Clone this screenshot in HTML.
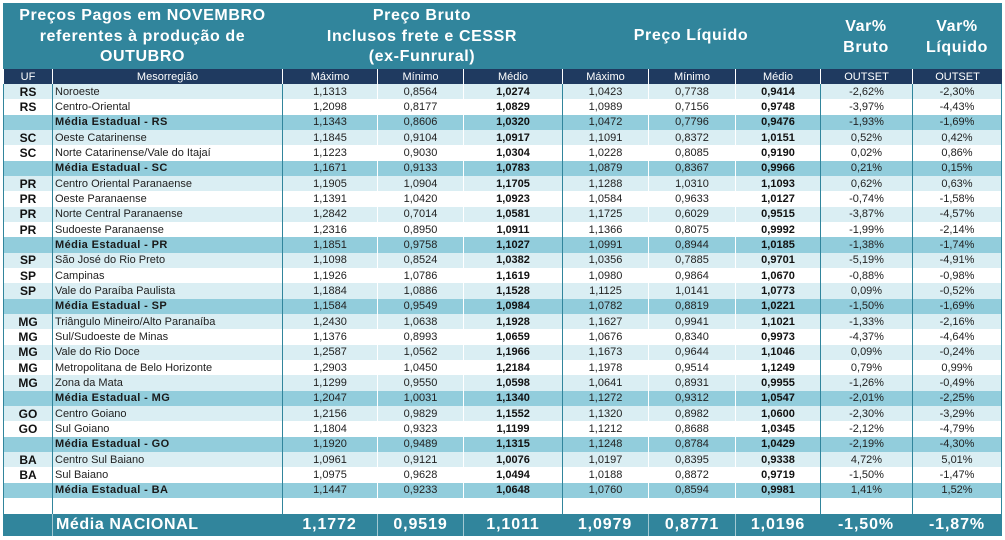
<!DOCTYPE html>
<html>
<head>
<meta charset="utf-8">
<style>
html,body{margin:0;padding:0;}
body{width:1005px;height:540px;background:#fff;overflow:hidden;position:relative;font-family:"Liberation Sans",Arial,sans-serif;}
.hdr{position:absolute;left:3px;top:3px;width:999px;height:66px;background:#31859C;}
.ht{position:absolute;color:#fff;font-weight:bold;font-size:16px;line-height:20.5px;text-align:center;letter-spacing:0.6px;white-space:nowrap;}
.row{display:grid;grid-template-columns:49px 230px 95px 86px 99px 86px 87px 85px 92px 90px;font-size:11px;color:#222;}
.row>div{box-sizing:border-box;text-align:center;white-space:nowrap;overflow:hidden;display:flex;align-items:center;justify-content:center;}
.row>div:nth-child(1){border-left:1px solid #31859C;font-weight:bold;font-size:12px;color:#111;}
.row>div:nth-child(2){border-left:1px solid #31859C;justify-content:flex-start;padding-left:2px;}
.row>div:nth-child(3){border-left:1px solid #31859C;}
.row>div:nth-child(4){border-left:1px solid #fff;}
.row>div:nth-child(5){border-left:1px solid #fff;font-weight:bold;color:#111;}
.row>div:nth-child(6){border-left:1px solid #31859C;}
.row>div:nth-child(7){border-left:1px solid #fff;}
.row>div:nth-child(8){border-left:1px solid #fff;font-weight:bold;color:#111;}
.row>div:nth-child(9){border-left:1px solid #31859C;}
.row>div:nth-child(10){border-left:1px solid #31859C;border-right:1px solid #31859C;}
.L{background:#DAEEF3;}
.W{background:#fff;}
.M{background:#92CDDC;}
.M>div:nth-child(2){font-weight:bold;letter-spacing:0.4px;color:#1a1a1a;}
.body{position:absolute;left:3px;top:84px;width:999px;height:414px;display:grid;grid-template-rows:repeat(27,1fr);}
.colh{position:absolute;left:3px;top:69px;width:999px;height:15px;background:#1F3A60;color:#fff;}
.colh>div{border-left:1px solid #fff !important;font-weight:normal !important;font-size:11px !important;color:#fff !important;justify-content:center !important;padding-left:0 !important;}
.colh>div:nth-child(10){border-right:none !important;}
.empty{position:absolute;left:3px;top:498px;width:999px;height:16px;}
.nat{position:absolute;left:3px;top:514px;width:999px;height:22px;background:#31859C;color:#fff;font-size:16px;font-weight:bold;letter-spacing:0.9px;}
.nat>div{border-left:none !important;border-right:none !important;color:#fff !important;font-weight:bold !important;font-size:16px !important;}
.nat>div:nth-child(2){border-left:1px solid rgba(255,255,255,0.55) !important;padding-left:3px !important;letter-spacing:0.6px;}
.nat>div:nth-child(4),.nat>div:nth-child(5),.nat>div:nth-child(7),.nat>div:nth-child(8){border-left:1px solid rgba(255,255,255,0.55) !important;}
</style>
</head>
<body>
<div class="hdr"></div>
<div class="ht" style="left:3px;width:279px;top:6px;">Preços Pagos em NOVEMBRO<br>referentes à produção de<br>OUTUBRO</div>
<div class="ht" style="left:282px;width:280px;top:6px;">Preço Bruto<br>Inclusos frete e CESSR<br>(ex-Funrural)</div>
<div class="ht" style="left:562px;width:258px;top:26px;">Preço Líquido</div>
<div class="ht" style="left:820px;width:92px;top:17px;">Var%<br>Bruto</div>
<div class="ht" style="left:912px;width:90px;top:17px;">Var%<br>Líquido</div>

<div class="row colh"><div>UF</div><div>Mesorregião</div><div>Máximo</div><div>Mínimo</div><div>Médio</div><div>Máximo</div><div>Mínimo</div><div>Médio</div><div>OUTSET</div><div>OUTSET</div></div>

<div class="body">
<div class="row L"><div>RS</div><div>Noroeste</div><div>1,1313</div><div>0,8564</div><div>1,0274</div><div>1,0423</div><div>0,7738</div><div>0,9414</div><div>-2,62%</div><div>-2,30%</div></div>
<div class="row W"><div>RS</div><div>Centro-Oriental</div><div>1,2098</div><div>0,8177</div><div>1,0829</div><div>1,0989</div><div>0,7156</div><div>0,9748</div><div>-3,97%</div><div>-4,43%</div></div>
<div class="row M"><div></div><div>Média Estadual - RS</div><div>1,1343</div><div>0,8606</div><div>1,0320</div><div>1,0472</div><div>0,7796</div><div>0,9476</div><div>-1,93%</div><div>-1,69%</div></div>
<div class="row L"><div>SC</div><div>Oeste Catarinense</div><div>1,1845</div><div>0,9104</div><div>1,0917</div><div>1,1091</div><div>0,8372</div><div>1,0151</div><div>0,52%</div><div>0,42%</div></div>
<div class="row W"><div>SC</div><div>Norte Catarinense/Vale do Itajaí</div><div>1,1223</div><div>0,9030</div><div>1,0304</div><div>1,0228</div><div>0,8085</div><div>0,9190</div><div>0,02%</div><div>0,86%</div></div>
<div class="row M"><div></div><div>Média Estadual - SC</div><div>1,1671</div><div>0,9133</div><div>1,0783</div><div>1,0879</div><div>0,8367</div><div>0,9966</div><div>0,21%</div><div>0,15%</div></div>
<div class="row L"><div>PR</div><div>Centro Oriental Paranaense</div><div>1,1905</div><div>1,0904</div><div>1,1705</div><div>1,1288</div><div>1,0310</div><div>1,1093</div><div>0,62%</div><div>0,63%</div></div>
<div class="row W"><div>PR</div><div>Oeste Paranaense</div><div>1,1391</div><div>1,0420</div><div>1,0923</div><div>1,0584</div><div>0,9633</div><div>1,0127</div><div>-0,74%</div><div>-1,58%</div></div>
<div class="row L"><div>PR</div><div>Norte Central Paranaense</div><div>1,2842</div><div>0,7014</div><div>1,0581</div><div>1,1725</div><div>0,6029</div><div>0,9515</div><div>-3,87%</div><div>-4,57%</div></div>
<div class="row W"><div>PR</div><div>Sudoeste Paranaense</div><div>1,2316</div><div>0,8950</div><div>1,0911</div><div>1,1366</div><div>0,8075</div><div>0,9992</div><div>-1,99%</div><div>-2,14%</div></div>
<div class="row M"><div></div><div>Média Estadual - PR</div><div>1,1851</div><div>0,9758</div><div>1,1027</div><div>1,0991</div><div>0,8944</div><div>1,0185</div><div>-1,38%</div><div>-1,74%</div></div>
<div class="row L"><div>SP</div><div>São José do Rio Preto</div><div>1,1098</div><div>0,8524</div><div>1,0382</div><div>1,0356</div><div>0,7885</div><div>0,9701</div><div>-5,19%</div><div>-4,91%</div></div>
<div class="row W"><div>SP</div><div>Campinas</div><div>1,1926</div><div>1,0786</div><div>1,1619</div><div>1,0980</div><div>0,9864</div><div>1,0670</div><div>-0,88%</div><div>-0,98%</div></div>
<div class="row L"><div>SP</div><div>Vale do Paraíba Paulista</div><div>1,1884</div><div>1,0886</div><div>1,1528</div><div>1,1125</div><div>1,0141</div><div>1,0773</div><div>0,09%</div><div>-0,52%</div></div>
<div class="row M"><div></div><div>Média Estadual - SP</div><div>1,1584</div><div>0,9549</div><div>1,0984</div><div>1,0782</div><div>0,8819</div><div>1,0221</div><div>-1,50%</div><div>-1,69%</div></div>
<div class="row L"><div>MG</div><div>Triângulo Mineiro/Alto Paranaíba</div><div>1,2430</div><div>1,0638</div><div>1,1928</div><div>1,1627</div><div>0,9941</div><div>1,1021</div><div>-1,33%</div><div>-2,16%</div></div>
<div class="row W"><div>MG</div><div>Sul/Sudoeste de Minas</div><div>1,1376</div><div>0,8993</div><div>1,0659</div><div>1,0676</div><div>0,8340</div><div>0,9973</div><div>-4,37%</div><div>-4,64%</div></div>
<div class="row L"><div>MG</div><div>Vale do Rio Doce</div><div>1,2587</div><div>1,0562</div><div>1,1966</div><div>1,1673</div><div>0,9644</div><div>1,1046</div><div>0,09%</div><div>-0,24%</div></div>
<div class="row W"><div>MG</div><div>Metropolitana de Belo Horizonte</div><div>1,2903</div><div>1,0450</div><div>1,2184</div><div>1,1978</div><div>0,9514</div><div>1,1249</div><div>0,79%</div><div>0,99%</div></div>
<div class="row L"><div>MG</div><div>Zona da Mata</div><div>1,1299</div><div>0,9550</div><div>1,0598</div><div>1,0641</div><div>0,8931</div><div>0,9955</div><div>-1,26%</div><div>-0,49%</div></div>
<div class="row M"><div></div><div>Média Estadual - MG</div><div>1,2047</div><div>1,0031</div><div>1,1340</div><div>1,1272</div><div>0,9312</div><div>1,0547</div><div>-2,01%</div><div>-2,25%</div></div>
<div class="row L"><div>GO</div><div>Centro Goiano</div><div>1,2156</div><div>0,9829</div><div>1,1552</div><div>1,1320</div><div>0,8982</div><div>1,0600</div><div>-2,30%</div><div>-3,29%</div></div>
<div class="row W"><div>GO</div><div>Sul Goiano</div><div>1,1804</div><div>0,9323</div><div>1,1199</div><div>1,1212</div><div>0,8688</div><div>1,0345</div><div>-2,12%</div><div>-4,79%</div></div>
<div class="row M"><div></div><div>Média Estadual - GO</div><div>1,1920</div><div>0,9489</div><div>1,1315</div><div>1,1248</div><div>0,8784</div><div>1,0429</div><div>-2,19%</div><div>-4,30%</div></div>
<div class="row L"><div>BA</div><div>Centro Sul Baiano</div><div>1,0961</div><div>0,9121</div><div>1,0076</div><div>1,0197</div><div>0,8395</div><div>0,9338</div><div>4,72%</div><div>5,01%</div></div>
<div class="row W"><div>BA</div><div>Sul Baiano</div><div>1,0975</div><div>0,9628</div><div>1,0494</div><div>1,0188</div><div>0,8872</div><div>0,9719</div><div>-1,50%</div><div>-1,47%</div></div>
<div class="row M"><div></div><div>Média Estadual - BA</div><div>1,1447</div><div>0,9233</div><div>1,0648</div><div>1,0760</div><div>0,8594</div><div>0,9981</div><div>1,41%</div><div>1,52%</div></div>
</div>

<div class="row W empty"><div></div><div></div><div></div><div></div><div></div><div></div><div></div><div></div><div></div><div></div></div>

<div class="row nat"><div></div><div>Média NACIONAL</div><div>1,1772</div><div>0,9519</div><div>1,1011</div><div>1,0979</div><div>0,8771</div><div>1,0196</div><div>-1,50%</div><div>-1,87%</div></div>
</body>
</html>
